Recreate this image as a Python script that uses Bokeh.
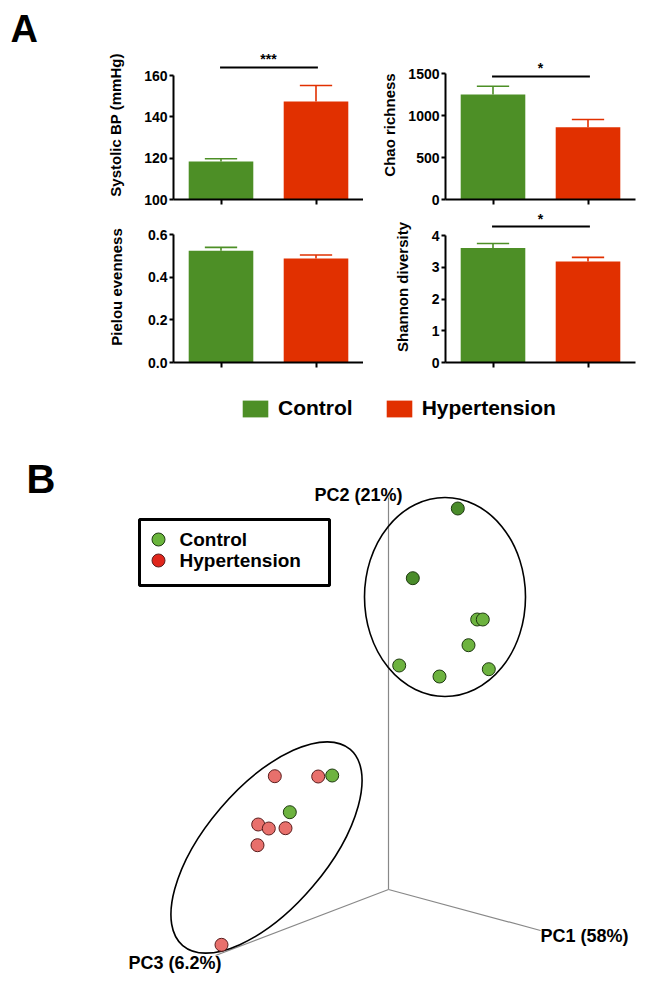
from bokeh.plotting import figure
from bokeh.layouts import column, row
from bokeh.models import (Range1d, FixedTicker, PrintfTickFormatter,
                          Legend, LegendItem)
from bokeh.core.properties import value
from bokeh.embed import file_html
from bokeh.resources import INLINE

# ---------------- data ----------------
groups = ["Control", "Hypertension"]
bar_colors = ["#4d8f26", "#e13000"]

sbp_mean = [118.4, 147.4]
sbp_sem = [1.3, 7.8]
chao_mean = [1250, 861]
chao_sem = [99, 91]
pielou_mean = [0.524, 0.488]
pielou_sem = [0.016, 0.016]
shannon_mean = [3.61, 3.18]
shannon_sem = [0.14, 0.13]

sbp_ticks = [100, 120, 140, 160]
chao_ticks = [0, 500, 1000, 1500]
pielou_ticks = [0.0, 0.2, 0.4, 0.6]
shannon_ticks = [0, 1, 2, 3, 4]

# PCoA projected coordinates (plot units)
ctrl_x = [457.3, 412.3, 476.7, 482.3, 468.0, 398.7, 439.0, 488.3, 331.7, 289.3]
ctrl_y = [-508.0, -577.7, -619.0, -619.0, -644.7, -665.0, -676.0, -668.7, -775.0, -811.7]
ctrl_fill = ["#4a8c2a", "#4a8c2a", "#6db33f", "#6db33f", "#6db33f", "#6db33f",
             "#6db33f", "#6db33f", "#6db33f", "#6db33f"]
hyp_x = [274.3, 317.7, 257.7, 268.3, 285.0, 257.0, 221.0]
hyp_y = [-775.7, -776.0, -824.0, -828.0, -827.7, -844.7, -944.3]

FONT = "Liberation Sans"
cx = [0.5, 1.5]


def bar_panel(means, sems, ylabel, ystart, yend, ticks, border_left, border_top,
              frame_h, lab_standoff, fmt=None, sig=None, border_right=0, border_bottom=6):
    p = figure(frame_width=190, frame_height=frame_h,
               x_range=Range1d(0, 2), y_range=Range1d(ystart, yend),
               min_border_left=border_left, min_border_right=border_right,
               min_border_top=border_top, min_border_bottom=border_bottom,
               toolbar_location=None, output_backend="svg")
    p.grid.visible = False
    p.outline_line_color = None
    p.vbar(x=cx, top=means, bottom=ystart, width=0.68, fill_color=bar_colors,
           line_color=None)
    tops = [m + s for m, s in zip(means, sems)]
    p.segment(x0=cx, y0=means, x1=cx, y1=tops, line_color=bar_colors, line_width=1.6)
    p.segment(x0=[c - 0.17 for c in cx], y0=tops, x1=[c + 0.17 for c in cx], y1=tops,
              line_color=bar_colors, line_width=1.6)
    if sig is not None:
        ly, ty, txt = sig
        p.segment(x0=[0.49], y0=[ly], x1=[1.52], y1=[ly], line_color="black", line_width=2)
        p.text(x=[1.0], y=[ty], text=[txt], text_align="center", text_baseline="middle",
               text_font=value(FONT), text_font_style="bold", text_font_size="14px")
    xa = p.xaxis[0]
    xa.ticker = FixedTicker(ticks=cx)
    xa.major_label_overrides = {0.5: "", 1.5: ""}
    xa.major_label_standoff = 0
    xa.axis_line_width = 2
    xa.major_tick_line_width = 2
    xa.major_tick_out = 5
    xa.major_tick_in = 0
    xa.minor_tick_line_color = None
    ya = p.yaxis[0]
    ya.ticker = FixedTicker(ticks=ticks)
    ya.bounds = (ticks[0], ticks[-1])
    if fmt:
        ya.formatter = PrintfTickFormatter(format=fmt)
    ya.axis_line_width = 2
    ya.major_tick_line_width = 2
    ya.major_tick_out = 4
    ya.major_tick_in = 0
    ya.minor_tick_line_color = None
    ya.major_label_standoff = 2
    ya.major_label_text_font = FONT
    ya.major_label_text_font_style = "bold"
    ya.major_label_text_font_size = "14px"
    ya.major_label_text_color = "black"
    ya.axis_label = ylabel
    ya.axis_label_text_font = FONT
    ya.axis_label_text_font_style = "bold"
    ya.axis_label_text_font_size = "15px"
    ya.axis_label_text_color = "black"
    ya.axis_label_standoff = lab_standoff
    return p


tl = bar_panel(sbp_mean, sbp_sem, "Systolic BP (mmHg)", 100, 172.1, sbp_ticks,
               173, 50, 149, 17, sig=(163.9, 168.2, "***"), border_bottom=12)
tl.title.text = "A"
tl.title.align = "left"
tl.title.offset = -163
tl.title.standoff = 2
tl.title.text_color = "black"
tl.title.text_font = FONT
tl.title.text_font_style = "bold"
tl.title.text_font_size = "38px"
tr = bar_panel(chao_mean, chao_sem, "Chao richness", 0, 1774, chao_ticks,
               82, 50, 149, 7, sig=(1464, 1571, "*"), border_right=3, border_bottom=12)
bl = bar_panel(pielou_mean, pielou_sem, "Pielou evenness", 0, 0.708, pielou_ticks,
               173, 0, 151, 20, fmt="%.1f", border_bottom=8)
br = bar_panel(shannon_mean, shannon_sem, "Shannon diversity", 0, 4.756, shannon_ticks,
               82, 0, 151, 18, sig=(4.28, 4.53, "*"), border_right=3, border_bottom=8)

# ---------------- panel B ----------------
pb = figure(width=638, height=605, x_range=Range1d(0, 638), y_range=Range1d(-975, -370),
            x_axis_type=None, y_axis_type=None, min_border=0,
            toolbar_location=None, output_backend="svg")
pb.grid.visible = False
pb.outline_line_color = None

# legend for panel A (proxy renderers placed outside the visible range)
ra = pb.vbar(x=[-5000], top=[-5000], bottom=[-5001], width=1, fill_color=bar_colors[0],
             line_color=None)
rb = pb.vbar(x=[-5000], top=[-5000], bottom=[-5001], width=1, fill_color=bar_colors[1],
             line_color=None)
leg = Legend(items=[LegendItem(label=groups[0], renderers=[ra]),
                    LegendItem(label=groups[1], renderers=[rb])],
             orientation="horizontal", location=(239, 555), glyph_width=32, glyph_height=21,
             label_standoff=7, spacing=30, padding=0, margin=0, border_line_color=None,
             background_fill_alpha=0, label_text_font=FONT, label_text_font_style="bold",
             label_text_font_size="21px", label_text_color="black")
pb.add_layout(leg)

# B label
pb.text(x=[26], y=[-478], text=["B"], text_font=value(FONT), text_font_style="bold",
        text_font_size="40px", text_baseline="middle")

# 3D axes
origin = (388, -889)
pb.segment(x0=[origin[0]] * 3, y0=[origin[1]] * 3, x1=[388, 540, 215],
           y1=[-497, -930, -955], line_color="#888888", line_width=1.2)
pb.text(x=[314, 540, 128], y=[-494, -935, -962], text=["PC2 (21%)", "PC1 (58%)", "PC3 (6.2%)"],
        text_font=value(FONT), text_font_style="bold", text_font_size="18px",
        text_baseline="middle")

# ellipses
pb.ellipse(x=[444.5, 266], y=[-596.5, -847], width=[161, 258], height=[199, 121],
           angle=[0, 0.864], fill_color=None, line_color="black", line_width=1.6)

# points
pb.scatter(x=ctrl_x, y=ctrl_y, size=13, fill_color=ctrl_fill, line_color="#1e3a10",
           line_width=1)
pb.scatter(x=hyp_x, y=hyp_y, size=13, fill_color="#e8706c", line_color="#5a1e1e",
           line_width=1)

# panel B legend
pb.rect(x=[234], y=[-552], width=[190], height=[66], fill_color="white",
        line_color="black", line_width=3)
pb.scatter(x=[158, 158], y=[-539, -560], size=13, fill_color=["#6ab53c", "#e0261c"],
           line_color=["#1e3a10", "#5a1e1e"], line_width=1)
pb.text(x=[179, 179], y=[-539, -560], text=groups, text_font=value(FONT),
        text_font_style="bold", text_font_size="19px", text_baseline="middle")

layout = column(row(tl, tr), row(bl, br), pb)
open("out.html", "w").write(file_html(layout, INLINE))
